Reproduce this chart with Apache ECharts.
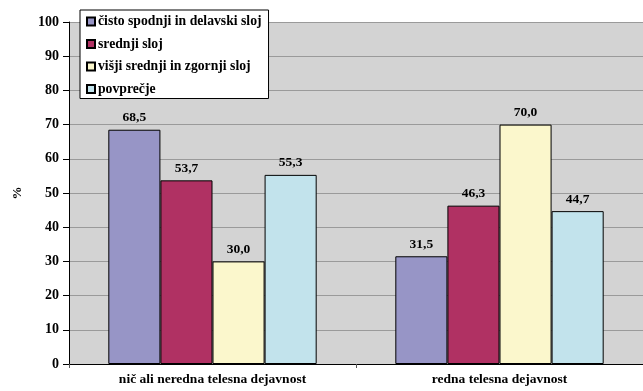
<!DOCTYPE html>
<html>
<head>
<meta charset="utf-8">
<script src="https://cdn.jsdelivr.net/npm/echarts@6/dist/echarts.min.js"></script>
<style>
  html, body { margin: 0; padding: 0; background: #ffffff; }
  #chart { width: 643px; height: 391px; }
</style>
</head>
<body>
<div id="chart"></div>
<script>
// Categories on the x axis
const categories = ['nič ali neredna telesna dejavnost', 'redna telesna dejavnost'];

// Share (%) per social class
const seriesNames = ['čisto spodnji in delavski sloj', 'srednji sloj', 'višji srednji in zgornji sloj', 'povprečje'];
const spodnjiSloj = [68.5, 31.5];
const srednjiSloj = [53.7, 46.3];
const visjiSloj = [30.0, 70.0];
const povprecje = [55.3, 44.7];

const seriesColors = ['#9795c6', '#b03163', '#fbf7cc', '#c2e3ec'];
const FONT = 'Liberation Serif';

const chart = echarts.init(document.getElementById('chart'), null, { renderer: 'canvas' });

const fmt = v => v.toFixed(1).replace('.', ',');

const seriesData = [spodnjiSloj, srednjiSloj, visjiSloj, povprecje];

chart.setOption({
  animation: false,
  backgroundColor: '#ffffff',
  textStyle: { fontFamily: FONT },
  grid: {
    left: 69, right: -4, top: 22, bottom: 27,
    show: true, backgroundColor: '#d3d3d3', borderWidth: 0
  },
  legend: {
    orient: 'vertical',
    left: 80, top: 10,
    backgroundColor: '#ffffff',
    borderColor: '#000000', borderWidth: 1,
    padding: [4, 7, 2, 6],
    itemGap: 7.5,
    itemWidth: 8, itemHeight: 8,
    icon: 'rect',
    selectedMode: false,
    textStyle: { fontFamily: FONT, fontWeight: 'bold', fontSize: 13.7, color: '#000', lineHeight: 15, padding: [0, 0, 0, -2] },
    data: seriesNames
  },
  xAxis: {
    type: 'category',
    data: categories,
    axisLine: { show: true, lineStyle: { color: '#000', width: 1 } },
    axisTick: { show: true, length: 4, lineStyle: { color: '#555' } },
    axisLabel: { fontFamily: FONT, fontWeight: 'bold', fontSize: 13.5, color: '#000', margin: 9 }
  },
  yAxis: {
    type: 'value',
    min: 0, max: 100, interval: 10,
    name: '%',
    nameLocation: 'middle',
    nameGap: 45,
    nameRotate: 90,
    nameTextStyle: { fontFamily: FONT, fontWeight: 'bold', fontSize: 13, color: '#000' },
    axisLine: { show: true, lineStyle: { color: '#000', width: 1 } },
    axisTick: { show: true, inside: false, length: 6, lineStyle: { color: '#000' } },
    axisLabel: { fontFamily: FONT, fontWeight: 'bold', fontSize: 14, color: '#000', margin: 10 },
    splitLine: { show: true, lineStyle: { color: '#9a9a9a', width: 1 } }
  },
  series: seriesNames.map((name, i) => ({
    name: name,
    type: 'bar',
    data: seriesData[i],
    barGap: '0%',
    barCategoryGap: '27.4%',
    itemStyle: { color: seriesColors[i], borderColor: '#000', borderWidth: 1 },
    label: {
      show: true, position: 'top', distance: 5,
      fontFamily: FONT, fontWeight: 'bold', fontSize: 13.5, color: '#000',
      formatter: p => fmt(p.value)
    }
  }))
});
</script>
</body>
</html>
